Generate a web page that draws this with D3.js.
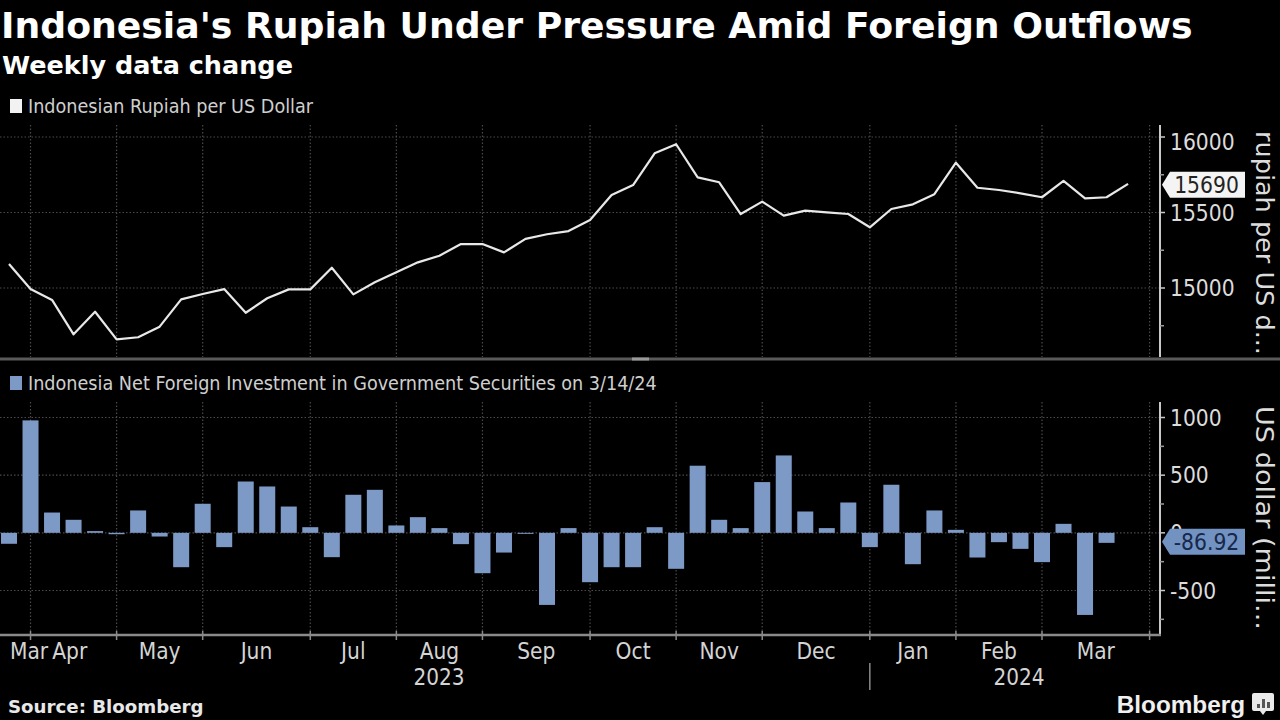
<!DOCTYPE html>
<html><head><meta charset="utf-8">
<script src="https://cdn.jsdelivr.net/npm/d3@7"></script>
<style>html,body{margin:0;padding:0;background:#000;overflow:hidden}</style>
</head><body><svg id="c" width="1280" height="720"></svg>
<script>
// ---------------- DATA ----------------
const titleText = "Indonesia's Rupiah Under Pressure Amid Foreign Outflows";
const subtitleText = "Weekly data change";
const lineLegend = "Indonesian Rupiah per US Dollar";
const barLegend = "Indonesia Net Foreign Investment in Government Securities on 3/14/24";
const lineAxisTitle = "rupiah per US d...";
const barAxisTitle = "US dollar (milli...";
const firstWeek = new Date(2023, 2, 31);   // first weekly observation
const lastTick = new Date(2024, 3, 6);
// Rupiah per USD, weekly
const rupiah = [15159,14993,14921,14693,14843,14660,14674,14744,14925,14960,
  14993,14836,14932,14991,14991,15134,14958,15038,15104,15170,
  15214,15291,15291,15236,15325,15356,15377,15450,15616,15682,
  15892,15952,15733,15700,15490,15572,15479,15512,15501,15490,
  15402,15523,15554,15621,15830,15664,15649,15627,15601,15709,
  15594,15601,15690];
// Net foreign investment in government securities, US$ mn, weekly
const flows = [-95,975,176,113,15,-12,194,-32,-298,252,
  -124,445,402,228,49,-211,330,373,64,136,
  41,-98,-350,-171,-8,-625,41,-428,-298,-298,
  49,-312,582,113,41,440,671,185,41,263,
  -124,417,-272,194,26,-214,-81,-139,-254,78,
  -712,-86.92];
const rupiahTicks = [15000, 15500, 16000];
const rupiahMinor = [14750, 15250, 15750];
const flowTicks = [-500, 0, 500, 1000];
const flowMinor = [-750, -250, 250, 750];
const lastRupiahLabel = "15690";
const lastFlowLabel = "-86.92";

// ---------------- LAYOUT ----------------
const svg = d3.select("#c");
const W = 1280, H = 720;
const axisX = 1160;
const topP = {y0: 125, y1: 357};
const botP = {y0: 402, y1: 635};
const COND = "'DejaVu Sans Condensed','Liberation Sans Narrow','DejaVu Sans',sans-serif";
const REG = "'DejaVu Sans','Verdana',sans-serif";
const BOLD = "'DejaVu Sans','Verdana',sans-serif";
const gridCol = "#4a4a4a";
const barCol = "#7d99c6";

svg.append("rect").attr("width", W).attr("height", H).attr("fill", "#000");

const weeks = d3.timeFriday.range(firstWeek, lastTick);
const x = d3.scaleTime().domain([weeks[0], weeks[weeks.length - 1]]).range([9, 1149.6]);
const yTop = d3.scaleLinear().domain([15000, 16000]).range([288, 137]);
const yBot = d3.scaleLinear().domain([-500, 1000]).range([590.5, 417.5]);

// month starts (first weekly point of each month)
const monthStarts = weeks.filter((d, i) => i > 0 && d.getMonth() !== weeks[i - 1].getMonth());

// ---------------- TITLES ----------------
svg.append("text").attr("x", 1).attr("y", 38).attr("fill", "#fff")
  .attr("font-family", BOLD).attr("font-weight", "bold").attr("font-size", 36.2)
  .text(titleText);
svg.append("text").attr("x", 2).attr("y", 74).attr("fill", "#fff")
  .attr("font-family", BOLD).attr("font-weight", "bold").attr("font-size", 25.5)
  .text(subtitleText);

// ---------------- LEGENDS ----------------
function legend(yc, color, text) {
  svg.append("rect").attr("x", 10).attr("y", yc - 7).attr("width", 12).attr("height", 14).attr("fill", color);
  svg.append("text").attr("x", 28).attr("y", yc).attr("dy", "0.35em").attr("fill", "#cfcfcf")
    .attr("font-family", COND).attr("font-size", 19.6).text(text);
}
legend(106, "#f2f2f2", lineLegend);
legend(383, barCol, barLegend);

// ---------------- GRIDS ----------------
function grid(panel, yScale, ticks) {
  const g = svg.append("g");
  g.selectAll("line.v").data(monthStarts).join("line")
    .attr("x1", d => x(d)).attr("x2", d => x(d))
    .attr("y1", panel.y0).attr("y2", panel.y1)
    .attr("stroke", gridCol).attr("stroke-width", 1.2).attr("stroke-dasharray", "1.5,2");
  g.selectAll("line.h").data(ticks).join("line")
    .attr("x1", 0).attr("x2", axisX)
    .attr("y1", d => yScale(d)).attr("y2", d => yScale(d))
    .attr("stroke", gridCol).attr("stroke-width", 1.2).attr("stroke-dasharray", "1.5,2");
}
grid(topP, yTop, rupiahTicks);
grid(botP, yBot, flowTicks);

// ---------------- LINE ----------------
const line = d3.line().x((d, i) => x(weeks[i])).y(d => yTop(d));
svg.append("path").datum(rupiah).attr("d", line)
  .attr("fill", "none").attr("stroke", "#e8e8e8").attr("stroke-width", 2.2)
  .attr("stroke-linejoin", "round");

// ---------------- BARS ----------------
const bw = 16;
svg.append("g").selectAll("rect").data(flows).join("rect")
  .attr("x", (d, i) => x(weeks[i]) - bw / 2)
  .attr("width", bw)
  .attr("y", d => Math.min(yBot(d), yBot(0)))
  .attr("height", d => Math.max(1, Math.abs(yBot(d) - yBot(0))))
  .attr("fill", barCol);

// ---------------- SEPARATOR ----------------
svg.append("rect").attr("x", 0).attr("y", 357.5).attr("width", W).attr("height", 3).attr("fill", "#5a5a5a");
svg.append("rect").attr("x", 632).attr("y", 357.5).attr("width", 17).attr("height", 3).attr("fill", "#9a9a9a");

// ---------------- RIGHT AXES ----------------
function rightAxis(panel, yScale, ticks, minor, clampTop) {
  const g = svg.append("g");
  g.append("line").attr("x1", axisX).attr("x2", axisX).attr("y1", panel.y0).attr("y2", panel.y1)
    .attr("stroke", "#c8c8c8").attr("stroke-width", 2);
  g.selectAll("line.mj").data(ticks).join("line")
    .attr("x1", axisX).attr("x2", axisX + 5).attr("y1", d => yScale(d)).attr("y2", d => yScale(d))
    .attr("stroke", "#c8c8c8").attr("stroke-width", 1.5);
  g.selectAll("line.mn").data(minor).join("line")
    .attr("x1", axisX).attr("x2", axisX + 4).attr("y1", d => yScale(d)).attr("y2", d => yScale(d))
    .attr("stroke", "#9a9a9a").attr("stroke-width", 1.5);
  g.selectAll("text").data(ticks).join("text")
    .attr("x", axisX + 10).attr("y", d => Math.max(clampTop, yScale(d)))
    .attr("dy", "0.36em").attr("fill", "#dcdcdc")
    .attr("font-family", COND).attr("font-size", 22.6).text(d => d);
}
rightAxis(topP, yTop, rupiahTicks, rupiahMinor, 142);
rightAxis(botP, yBot, flowTicks, flowMinor, 0);

// value callouts
function callout(yc, fill, textCol, label) {
  const x0 = axisX + 2, x1 = axisX + 10, x2 = 1245, h = 13;
  svg.append("path")
    .attr("d", `M${x0},${yc} L${x1},${yc - h} L${x2},${yc - h} L${x2},${yc + h} L${x1},${yc + h} Z`)
    .attr("fill", fill);
  svg.append("text").attr("x", (x1 + x2) / 2 - 1).attr("y", yc).attr("dy", "0.36em")
    .attr("text-anchor", "middle").attr("fill", textCol)
    .attr("font-family", COND).attr("font-size", 22.6).text(label);
}
callout(yTop(rupiah[rupiah.length - 1]) + 1, "#f4f4f4", "#222", lastRupiahLabel);
callout(yBot(flows[flows.length - 1]) - 1, "#7292c2", "#17284a", lastFlowLabel);

// axis titles (rotated)
function axisTitle(yStart, text, len) {
  svg.append("text").attr("transform", `translate(1256,${yStart}) rotate(90)`)
    .attr("fill", "#dcdcdc").attr("font-family", REG).attr("font-size", 25)
    .attr("textLength", len).attr("lengthAdjust", "spacingAndGlyphs").text(text);
}
axisTitle(131, lineAxisTitle, 224);
axisTitle(406, barAxisTitle, 224);

// ---------------- X AXIS ----------------
const xa = svg.append("g");
xa.append("line").attr("x1", 0).attr("x2", axisX + 1).attr("y1", botP.y1).attr("y2", botP.y1)
  .attr("stroke", "#8a8a8a").attr("stroke-width", 2.5);
xa.selectAll("line.t").data(monthStarts).join("line")
  .attr("x1", d => x(d)).attr("x2", d => x(d)).attr("y1", botP.y1 - 4).attr("y2", botP.y1 + 5)
  .attr("stroke", "#8a8a8a").attr("stroke-width", 1.5);

const segs = [weeks[0], ...monthStarts];
const fmt = d3.timeFormat("%b");
const labels = segs.slice(0, -1).map((d, i) => ({d, mid: (x(d) + x(segs[i + 1])) / 2, text: fmt(d)}));
const lt = xa.selectAll("text.m").data(labels).join("text")
  .attr("y", 651).attr("dy", "0.36em").attr("fill", "#d4d4d4")
  .attr("font-family", COND).attr("font-size", 22.5)
  .attr("text-anchor", "middle").attr("x", d => d.mid).text(d => d.text);
// pack the partial first month label with the next one
const nodes = lt.nodes();
const w0 = nodes[0].getComputedTextLength();
const w1 = nodes[1].getComputedTextLength();
d3.select(nodes[0]).attr("x", x(weeks[0]) + 1 + w0 / 2);
d3.select(nodes[1]).attr("x", x(weeks[0]) + 1 + w0 + 4 + w1 / 2);

// years
const janStart = monthStarts.find(d => d.getMonth() === 0);
xa.append("line").attr("x1", x(janStart)).attr("x2", x(janStart)).attr("y1", 663).attr("y2", 690)
  .attr("stroke", "#8a8a8a").attr("stroke-width", 1.5);
const years = [{t: "2023", a: 0, b: x(janStart)}, {t: "2024", a: x(janStart), b: axisX}];
xa.selectAll("text.y").data(years).join("text")
  .attr("x", d => (d.a + d.b) / 2 + 4).attr("y", 677).attr("dy", "0.36em")
  .attr("text-anchor", "middle").attr("fill", "#d4d4d4")
  .attr("font-family", COND).attr("font-size", 22.3).text(d => d.t);

// ---------------- FOOTER ----------------
svg.append("text").attr("x", 8).attr("y", 713).attr("fill", "#e8e8e8")
  .attr("font-family", BOLD).attr("font-weight", "bold").attr("font-size", 18.2).text("Source: Bloomberg");
svg.append("text").attr("x", 1245).attr("y", 713).attr("text-anchor", "end").attr("fill", "#f0f0f0")
  .attr("font-family", "'Liberation Sans','Arial',sans-serif").attr("font-weight", "bold").attr("font-size", 24.3)
  .text("Bloomberg");
const logo = svg.append("g").attr("transform", "translate(1252,693)");
logo.append("path").attr("d", "M2,0 H20 Q22,0 22,2 V16 Q22,18 20,18 H14 L11,22 L8,18 H2 Q0,18 0,16 V2 Q0,0 2,0 Z").attr("fill", "#eaeaea");
logo.append("rect").attr("x", 5).attr("y", 11).attr("width", 3).attr("height", 4).attr("fill", "#555");
logo.append("rect").attr("x", 10).attr("y", 6).attr("width", 3).attr("height", 9).attr("fill", "#555");
logo.append("rect").attr("x", 15).attr("y", 9).attr("width", 3).attr("height", 6).attr("fill", "#555");
</script></body></html>
